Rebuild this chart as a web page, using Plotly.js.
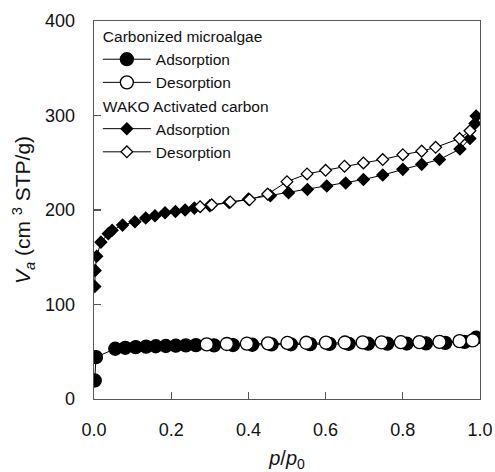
<!DOCTYPE html>
<html>
<head>
<meta charset="utf-8">
<script src="https://cdn.plot.ly/plotly-3.0.1.min.js"></script>
<style>
  html, body { margin: 0; padding: 0; background: #fff; }
  #chart { width: 495px; height: 472px; }
</style>
</head>
<body>
<div id="chart"></div>
<script>
// N2 isotherms: relative pressure p/p0 vs adsorbed volume Va (cm3 STP/g)

// Carbonized microalgae – adsorption branch
const algaeAdsP = [0.002, 0.005, 0.055, 0.081, 0.108, 0.135, 0.16, 0.186, 0.212, 0.238, 0.264,
                   0.311, 0.36, 0.41, 0.46, 0.51, 0.56, 0.61, 0.66, 0.71, 0.76, 0.81, 0.86, 0.91, 0.96, 0.99];
const algaeAdsV = [19.6, 44.3, 53.2, 54.2, 54.9, 55.4, 55.8, 56.1, 56.4, 56.7, 57.0,
                   56.8, 57.1, 57.4, 57.7, 57.9, 58.1, 58.3, 58.4, 58.5, 58.6, 58.7, 58.9, 59.4, 60.5, 64.8];

// Carbonized microalgae – desorption branch
const algaeDesP = [0.981, 0.947, 0.895, 0.843, 0.795, 0.745, 0.696, 0.65, 0.601, 0.55, 0.501, 0.451, 0.396, 0.344, 0.292];
const algaeDesV = [62.0, 61.2, 60.5, 60.2, 60.1, 60.0, 59.9, 59.8, 59.7, 59.5, 59.3, 58.9, 58.5, 58.2, 57.8];

// WAKO activated carbon – adsorption branch
const wakoAdsP = [0.002, 0.003, 0.007, 0.018, 0.037, 0.047, 0.074, 0.106, 0.134, 0.158, 0.184, 0.211, 0.236, 0.26,
                  0.30, 0.35, 0.40, 0.457, 0.504, 0.553, 0.603, 0.652, 0.698, 0.748, 0.80, 0.849, 0.895, 0.948, 0.974, 0.987, 0.99];
const wakoAdsV = [119, 136, 151, 166, 175, 178.5, 184, 187.5, 191.5, 194, 197, 198.5, 200, 202,
                  204.5, 208, 211.5, 215, 218.3, 221.8, 225.4, 228.6, 232.2, 237, 243, 248.3, 253.5, 264.5, 275.6, 291.5, 299.5];

// WAKO activated carbon – desorption branch
const wakoDesP = [0.974, 0.947, 0.885, 0.849, 0.80, 0.748, 0.698, 0.649, 0.60, 0.552, 0.50, 0.45, 0.403, 0.353, 0.305, 0.275];
const wakoDesV = [283.8, 275.6, 266.3, 262.3, 258.5, 253.4, 249.8, 246.3, 242, 238.2, 230, 216.8, 211, 208.5, 205.5, 203.5];

// Axis ticks
const xTicks = [0.0, 0.2, 0.4, 0.6, 0.8, 1.0];
const xTickText = ['0.0', '0.2', '0.4', '0.6', '0.8', '1.0'];
const yTicks = [0, 100, 200, 300, 400];

const FONT = '"Liberation Sans", Arial, sans-serif';
const lineStyle = { color: '#000', width: 1 };

function series(x, y, name, group, groupTitle, symbol, filled, size) {
  const t = {
    type: 'scatter', mode: 'lines+markers',
    x: x, y: y, name: name,
    legendgroup: group,
    line: lineStyle,
    marker: {
      symbol: symbol, size: size,
      color: filled ? '#000' : '#fff',
      line: { color: '#000', width: 1.3 }
    }
  };
  if (groupTitle) {
    t.legendgrouptitle = { text: groupTitle, font: { family: FONT, size: 15.5, color: '#111' } };
  }
  return t;
}

const traces = [
  series(algaeAdsP, algaeAdsV, 'Adsorption', 'algae', 'Carbonized microalgae', 'circle', true, 13),
  series(algaeDesP, algaeDesV, 'Desorption', 'algae', null, 'circle', false, 13),
  series(wakoAdsP, wakoAdsV, 'Adsorption', 'wako', 'WAKO Activated carbon', 'diamond', true, 9),
  series(wakoDesP, wakoDesV, 'Desorption', 'wako', null, 'diamond', false, 9)
];

const axisCommon = {
  showgrid: false, zeroline: false,
  showline: true, linecolor: '#555', linewidth: 1.3, mirror: true,
  ticks: 'inside', ticklen: 7, tickwidth: 1.2, tickcolor: '#555',
  tickfont: { family: FONT, size: 18, color: '#111' }
};

const layout = {
  width: 495, height: 472,
  margin: { l: 94, r: 15, t: 21, b: 73 },
  paper_bgcolor: '#fff', plot_bgcolor: '#fff',
  font: { family: FONT, color: '#111' },
  showlegend: true,
  legend: {
    x: 0.01, y: 1.004, xanchor: 'left', yanchor: 'top',
    bgcolor: 'rgba(0,0,0,0)', borderwidth: 0,
    font: { family: FONT, size: 15.5, color: '#111' },
    itemwidth: 48, tracegroupgap: 0,
    traceorder: 'grouped'
  },
  xaxis: Object.assign({}, axisCommon, {
    range: [0, 1], tickvals: xTicks, ticktext: xTickText,
    ticklabelstandoff: 14,
    title: { text: '<i>p</i>/<i>p</i><sub>0</sub>', font: { family: FONT, size: 20, color: '#111' }, standoff: 14 }
  }),
  yaxis: Object.assign({}, axisCommon, {
    range: [0, 400], tickvals: yTicks,
    ticklabelstandoff: 14,
    title: { text: '<i>V<sub>a</sub></i> (cm <sup>3</sup> STP/g)', font: { family: FONT, size: 21, color: '#111' }, standoff: 8 }
  })
};

Plotly.newPlot('chart', traces, layout, { displayModeBar: false, staticPlot: true });
</script>
</body>
</html>
